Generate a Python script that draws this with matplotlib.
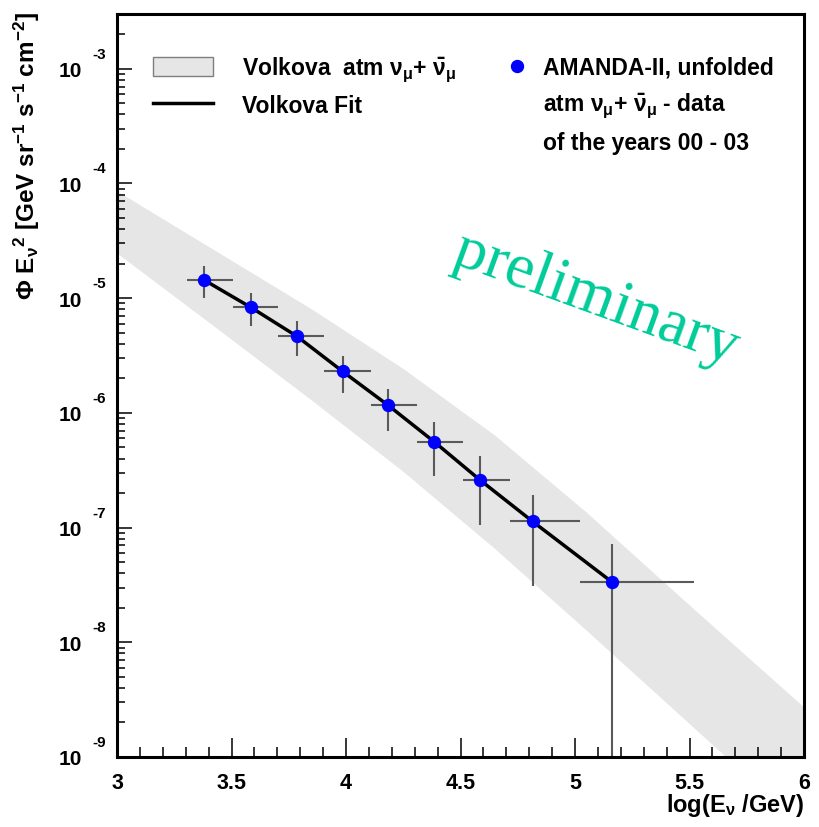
import matplotlib
matplotlib.use("Agg")
import matplotlib.pyplot as plt
import numpy as np
from matplotlib.lines import Line2D
from matplotlib.patches import Patch
from matplotlib.ticker import MultipleLocator, LogLocator, NullFormatter, FuncFormatter
import matplotlib.transforms as mtransforms

plt.rcParams['font.family'] = ['Liberation Sans', 'DejaVu Sans']
plt.rcParams['font.weight'] = 'bold'
plt.rcParams['mathtext.fontset'] = 'custom'
plt.rcParams['mathtext.rm'] = 'Liberation Sans:bold'
plt.rcParams['mathtext.it'] = 'Liberation Sans:bold'
plt.rcParams['mathtext.bf'] = 'Liberation Sans:bold'
plt.rcParams['mathtext.default'] = 'regular'

# Unfolded AMANDA-II data: bin centres, bin edges, flux and error limits
log_e = np.array([3.38, 3.585, 3.785, 3.985, 4.185, 4.385, 4.585, 4.815, 5.16])
log_e_lo = np.array([3.305, 3.505, 3.705, 3.905, 4.11, 4.31, 4.51, 4.715, 5.02])
log_e_hi = np.array([3.505, 3.705, 3.905, 4.11, 4.31, 4.51, 4.715, 5.02, 5.52])
flux = np.array([1.44e-5, 8.3e-6, 4.66e-6, 2.3e-6, 1.16e-6, 5.6e-7, 2.6e-7, 1.13e-7, 3.37e-8])
flux_hi = np.array([1.9e-5, 1.11e-5, 6.3e-6, 3.11e-6, 1.6e-6, 8.4e-7, 4.2e-7, 1.94e-7, 7.2e-8])
flux_lo = np.array([1.0e-5, 5.7e-6, 3.11e-6, 1.48e-6, 6.9e-7, 2.8e-7, 1.06e-7, 3.1e-8, 1e-10])

# Volkova atmospheric flux band (upper / lower envelope)
band_x = np.array([3.0, 3.4, 3.85, 4.25, 4.65, 5.05, 5.45, 5.75, 6.0])
band_hi = np.array([8.59e-5, 2.82e-5, 8.04e-6, 2.43e-6, 6.38e-7, 1.36e-7, 2.59e-8, 7.57e-9, 2.72e-9])
band_lo = np.array([2.47e-5, 6.19e-6, 1.29e-6, 3.08e-7, 6.55e-8, 1.27e-8, 2.40e-9, 6.87e-10, 2.43e-10])

# Volkova fit curve
fit_x = np.array([3.38, 3.585, 3.785, 3.985, 4.185, 4.385, 4.585, 4.815, 5.16])
fit_y = np.array([1.44e-5, 8.3e-6, 4.66e-6, 2.3e-6, 1.16e-6, 5.6e-7, 2.6e-7, 1.13e-7, 3.37e-8])

W, H = 819, 828
fig = plt.figure(figsize=(W / 100, H / 100), dpi=100)
ax = fig.add_axes([117 / W, 1 - 758 / H, (804 - 117) / W, (758 - 15) / H])

ax.set_yscale('log')
ax.set_xlim(3, 6)
ax.set_ylim(1e-9, 3e-3)

band_color = '#e6e6e6'
ax.fill_between(band_x, band_lo, band_hi, color=band_color, lw=0, zorder=1)
ax.errorbar(log_e, flux,
            xerr=[log_e - log_e_lo, log_e_hi - log_e],
            yerr=[flux - flux_lo, flux_hi - flux],
            fmt='none', ecolor='#5a5a5a', elinewidth=1.5, capsize=0, zorder=2)
ax.plot(fit_x, fit_y, color='black', lw=2.5, zorder=3)
ax.plot(log_e, flux, 'o', color='#0000ff', ms=8.6, mec='#0000ff', zorder=4)

# Axes frame and ticks
for s in ax.spines.values():
    s.set_linewidth(2.2)
ax.xaxis.set_major_locator(MultipleLocator(0.5))
ax.xaxis.set_minor_locator(MultipleLocator(0.1))
ax.yaxis.set_major_locator(LogLocator(base=10, numticks=20))
ax.yaxis.set_minor_locator(LogLocator(base=10, subs=np.arange(2, 10), numticks=20))
ax.yaxis.set_major_formatter(NullFormatter())
ax.yaxis.set_minor_formatter(NullFormatter())
ax.xaxis.set_major_formatter(FuncFormatter(lambda v, p: f"{v:g}"))
ax.tick_params(axis='x', which='major', direction='in', length=14, width=1.1,
               labelsize=15.5, pad=11, top=False)
ax.tick_params(axis='x', which='minor', direction='in', length=7, width=1.1, top=False)
ax.tick_params(axis='y', which='major', direction='in', length=11, width=1.1, right=False)
ax.tick_params(axis='y', which='minor', direction='in', length=5.5, width=1.1, right=False)

# Decade labels on the y axis: "10" with a raised exponent
tr_base = mtransforms.blended_transform_factory(ax.transAxes, ax.transData)
for e in range(-9, -2):
    t10 = mtransforms.offset_copy(tr_base, fig=fig, x=-35, y=-2, units='dots')
    ax.text(0, 10.0 ** e, "10", transform=t10, ha='right', va='center',
            fontsize=15, fontweight='bold', clip_on=False)
    tex = mtransforms.offset_copy(tr_base, fig=fig, x=-25, y=15, units='dots')
    ax.text(0, 10.0 ** e, f"{e}", transform=tex, ha='left', va='center',
            fontsize=11, fontweight='bold', clip_on=False)

fig.text(27 / W, 1 - 12 / H,
         r'$\Phi$ E$_{\nu}$$^{2}$ [GeV sr$^{-1}$ s$^{-1}$ cm$^{-2}$]',
         rotation=90, ha='center', va='top', fontsize=17.5, fontweight='bold')
fig.text(804 / W, 1 - 806 / H, r'log(E$_{\nu}$ /GeV)', ha='right', va='center',
         fontsize=17, fontweight='bold')

# Legends
h_band = Patch(facecolor=band_color, edgecolor='#7f7f7f', lw=1)
h_fit = Line2D([], [], color='black', lw=2.5)
leg1 = ax.legend([h_band, h_fit],
                 [r'Volkova  atm $\nu_{\mu}$+ $\bar{\nu}_{\mu}$', 'Volkova Fit'],
                 loc='upper left', bbox_to_anchor=(0.0524, 0.945), frameon=False,
                 borderpad=0, borderaxespad=0, handlelength=2.6, handleheight=0.9,
                 handletextpad=1.3, labelspacing=0.45,
                 prop={'size': 16.5, 'weight': 'bold'})
ax.add_artist(leg1)

h_dat = Line2D([], [], ls='none', marker='o', color='#0000ff', ms=8.6)
h_blank = Line2D([], [], ls='none')
ax.legend([h_dat, h_blank, h_blank],
          ['AMANDA-II, unfolded', r'atm $\nu_{\mu}$+ $\bar{\nu}_{\mu}$ - data',
           'of the years 00 - 03'],
          loc='upper left', bbox_to_anchor=(0.5655, 0.944), frameon=False,
          borderpad=0, borderaxespad=0, handlelength=1.0, handletextpad=0.63,
          labelspacing=0.52, prop={'size': 16.5, 'weight': 'bold'})

ax.text(0.698, 0.617, 'preliminary', transform=ax.transAxes, rotation=-20,
        ha='center', va='center', color='#00cc99', fontsize=46,
        family=['Liberation Serif'], fontweight='normal')

fig.savefig('out.png', dpi=100)
